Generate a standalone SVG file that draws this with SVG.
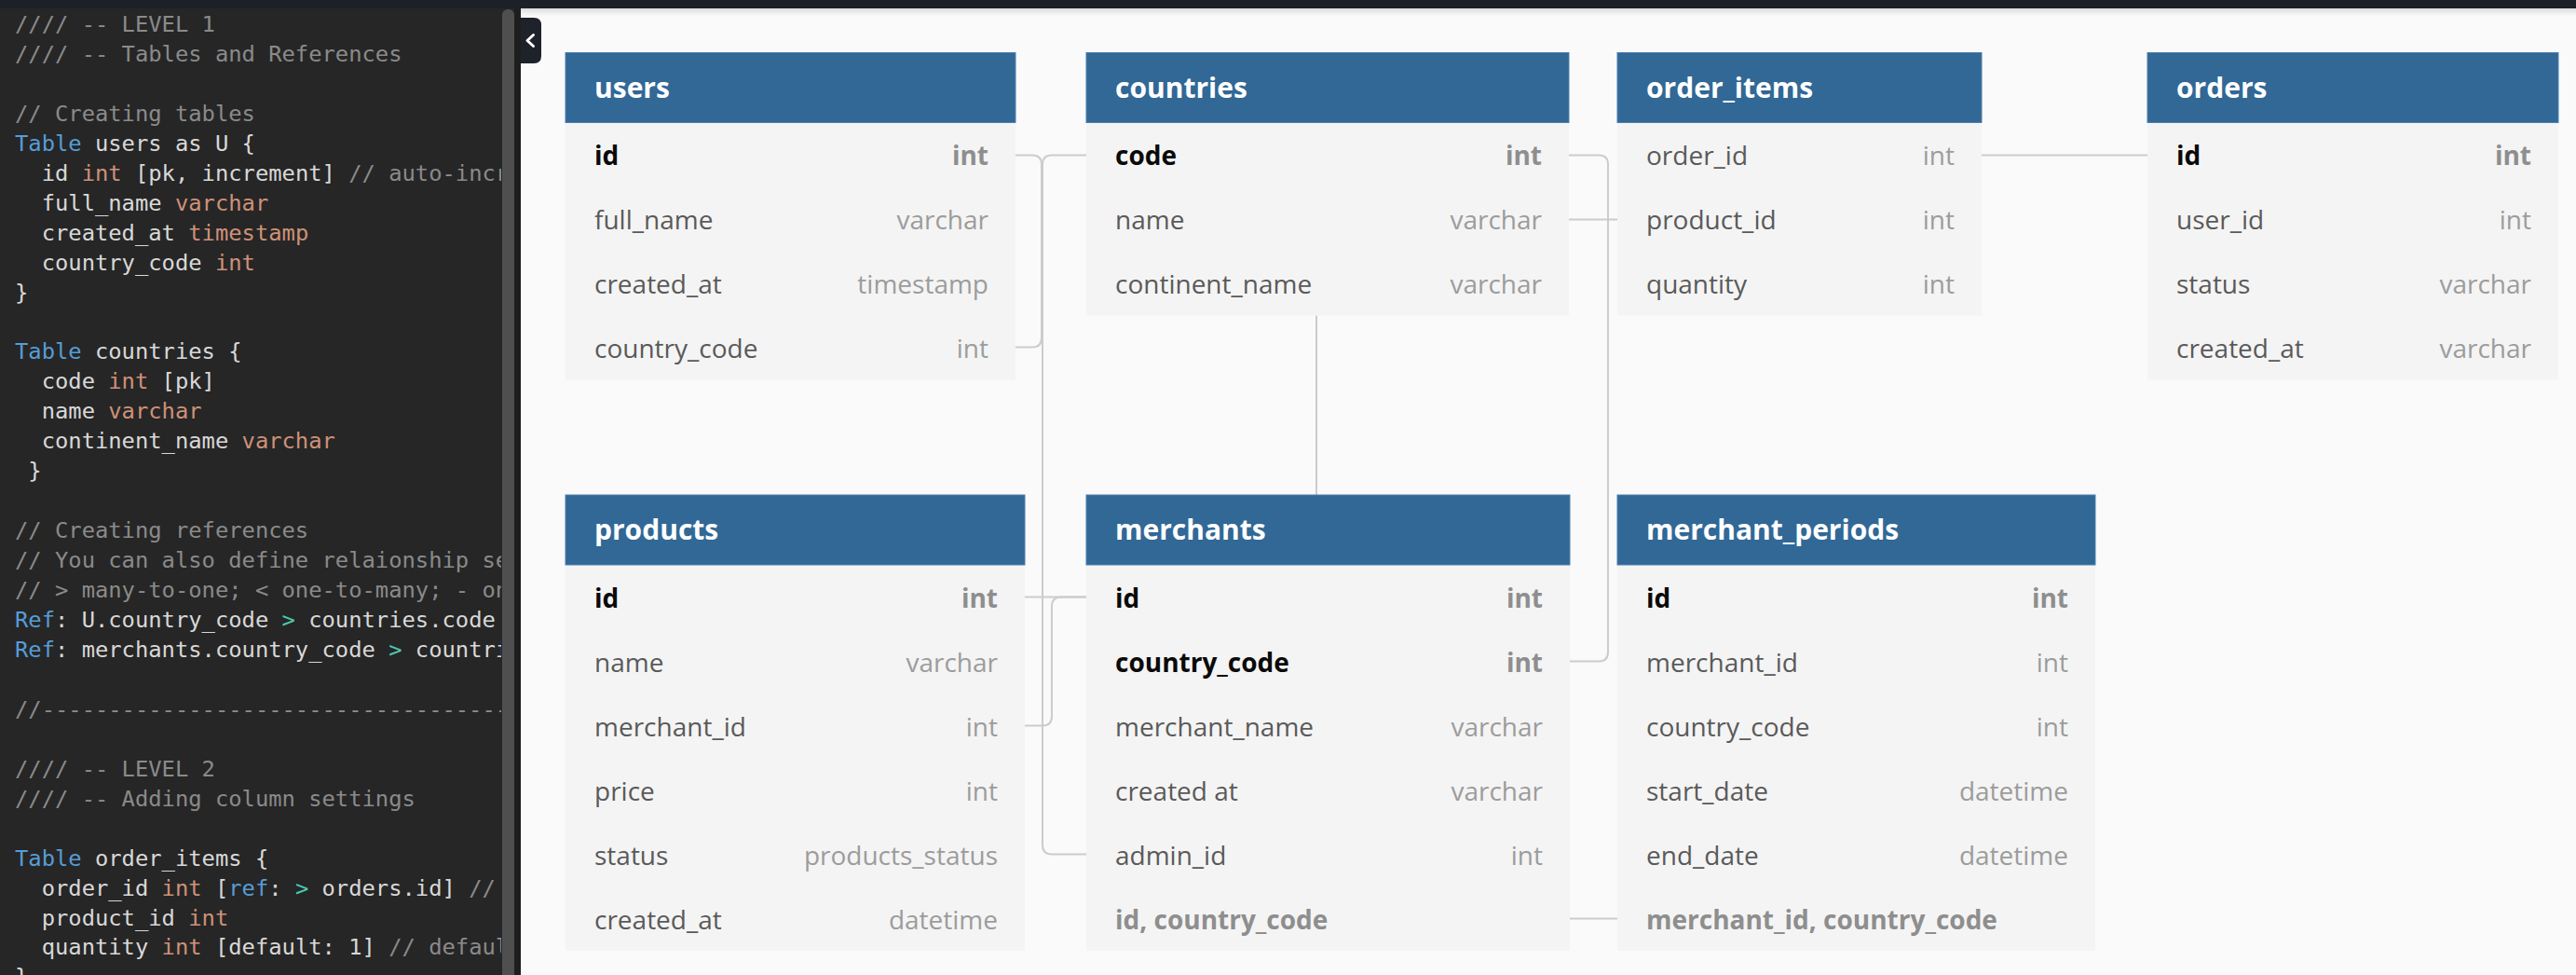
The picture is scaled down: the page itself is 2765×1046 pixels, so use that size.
<svg xmlns="http://www.w3.org/2000/svg" width="2765" height="1046" viewBox="0 0 2765 1046">
<defs>
<style>
.code{font-family:"DejaVu Sans Mono","Liberation Mono",monospace;font-size:23.8px;fill:#d8d8d8;white-space:pre}
.c{fill:#8a8a8a}.k{fill:#569cd6}.t{fill:#ce9178}.g{fill:#4ec9b0}
.hdr{fill:#316896;stroke:#4a80b1;stroke-width:1}
.body{fill:#f4f4f4}
.title{font-family:"Open Sans","Noto Sans",sans-serif;font-weight:bold;font-size:30px;fill:#ffffff}
.col{font-family:"Open Sans","Noto Sans",sans-serif;font-size:28px;fill:#5a5a5a}
.typ{font-family:"Open Sans","Noto Sans",sans-serif;font-size:28px;fill:#9c9c9c;text-anchor:end}
.pk{font-weight:bold;fill:#0a0a0a}
.pkt{font-weight:bold;fill:#8e8e8e}
.idx{font-weight:bold;fill:#8e8e8e}
.conn{fill:none;stroke:#cccccc;stroke-width:2}
</style>
<clipPath id="codeclip"><rect x="0" y="0" width="538" height="1046"/></clipPath>
<linearGradient id="topshadow" x1="0" y1="0" x2="0" y2="1">
<stop offset="0" stop-color="#000" stop-opacity="0.12"/>
<stop offset="1" stop-color="#000" stop-opacity="0"/>
</linearGradient>
</defs>

<!-- canvas -->
<rect x="0" y="0" width="2765" height="1046" fill="#fafafa"/>
<rect x="559" y="9" width="2206" height="8" fill="url(#topshadow)"/>

<!-- code panel -->
<g id="editor">
<rect x="0" y="9" width="559" height="1037" fill="#262626"/>
<rect x="552" y="9" width="7" height="1037" fill="#1e1e1e"/>
<rect x="539" y="10" width="13" height="1046" rx="6" fill="#4f4f4f"/>
<g class="code" clip-path="url(#codeclip)">
<text x="16" y="34" class="c">//// -- LEVEL 1</text>
<text x="16" y="65.95" class="c">//// -- Tables and References</text>
<text x="16" y="129.85" class="c">// Creating tables</text>
<text x="16" y="161.8"><tspan class="k">Table</tspan> users as U {</text>
<text x="44.66" y="193.75">id <tspan class="t">int</tspan> [pk, increment] <tspan class="c">// auto-incre</tspan></text>
<text x="44.66" y="225.7">full_name <tspan class="t">varchar</tspan></text>
<text x="44.66" y="257.65">created_at <tspan class="t">timestamp</tspan></text>
<text x="44.66" y="289.6">country_code <tspan class="t">int</tspan></text>
<text x="16" y="321.55">}</text>
<text x="16" y="385.45"><tspan class="k">Table</tspan> countries {</text>
<text x="44.66" y="417.4">code <tspan class="t">int</tspan> [pk]</text>
<text x="44.66" y="449.35">name <tspan class="t">varchar</tspan></text>
<text x="44.66" y="481.3">continent_name <tspan class="t">varchar</tspan></text>
<text x="30.33" y="513.25">}</text>
<text x="16" y="577.15" class="c">// Creating references</text>
<text x="16" y="609.1" class="c">// You can also define relaionship set</text>
<text x="16" y="641.05" class="c">// &gt; many-to-one; &lt; one-to-many; - one</text>
<text x="16" y="673"><tspan class="k">Ref</tspan>: U.country_code <tspan class="g">&gt;</tspan> countries.code</text>
<text x="16" y="704.95"><tspan class="k">Ref</tspan>: merchants.country_code <tspan class="g">&gt;</tspan> countrie</text>
<text x="16" y="768.85" class="c">//------------------------------------</text>
<text x="16" y="832.75" class="c">//// -- LEVEL 2</text>
<text x="16" y="864.7" class="c">//// -- Adding column settings</text>
<text x="16" y="928.6"><tspan class="k">Table</tspan> order_items {</text>
<text x="44.66" y="960.55">order_id <tspan class="t">int</tspan> [<tspan class="k">ref</tspan>: <tspan class="g">&gt;</tspan> orders.id] <tspan class="c">// i</tspan></text>
<text x="44.66" y="992.5">product_id <tspan class="t">int</tspan></text>
<text x="44.66" y="1024.45">quantity <tspan class="t">int</tspan> [default: 1] <tspan class="c">// default</tspan></text>
<text x="16" y="1056.4">}</text>
</g>
</g>

<!-- top bar -->
<rect x="0" y="0" width="2765" height="9" fill="#1c2029"/>

<!-- collapse button -->
<g id="toggle">
<path d="M559,19 H573 Q581,19 581,27 V60 Q581,68 573,68 H559 Z" fill="#1e222a"/>
<polyline points="572.5,37.5 566,43.5 572.5,49.5" fill="none" stroke="#ffffff" stroke-width="3" stroke-linecap="round" stroke-linejoin="round"/>
</g>

<!-- connectors -->
<g id="connectors">
<path class="conn" d="M1090,166.5 H1108 Q1118,166.5 1118,176.5 V362.5 Q1118,372.5 1108,372.5 H1090"/>
<path class="conn" d="M1166,166.5 H1129 Q1119,166.5 1119,176.5 V906.5 Q1119,916.5 1129,916.5 H1166"/>
<path class="conn" d="M1684,166.5 H1716 Q1726,166.5 1726,176.5 V699.5 Q1726,709.5 1716,709.5 H1685"/>
<path class="conn" d="M1684,235.5 H1736"/>
<path class="conn" d="M2127,166.5 H2305"/>
<path class="conn" d="M1413,338.5 V531"/>
<path class="conn" d="M1100,640.5 H1166"/>
<path class="conn" d="M1100,778.5 H1119 Q1129,778.5 1129,768.5 V650.5 Q1129,640.5 1139,640.5 H1166"/>
<path class="conn" d="M1685,985.5 H1736"/>
</g>

<!-- users -->
<g id="users">
<rect class="body" x="607" y="131.5" width="483" height="276"/>
<rect class="hdr" x="607" y="56.5" width="483" height="75"/>
<text class="title" x="638" y="105">users</text>
<text class="col pk" x="638" y="177">id</text><text class="typ pkt" x="1061" y="177">int</text>
<text class="col" x="638" y="246">full_name</text><text class="typ" x="1061" y="246">varchar</text>
<text class="col" x="638" y="315">created_at</text><text class="typ" x="1061" y="315">timestamp</text>
<text class="col" x="638" y="384">country_code</text><text class="typ" x="1061" y="384">int</text>
</g>

<!-- countries -->
<g id="countries">
<rect class="body" x="1166" y="131.5" width="518" height="207"/>
<rect class="hdr" x="1166" y="56.5" width="518" height="75"/>
<text class="title" x="1197" y="105">countries</text>
<text class="col pk" x="1197" y="177">code</text><text class="typ pkt" x="1655" y="177">int</text>
<text class="col" x="1197" y="246">name</text><text class="typ" x="1655" y="246">varchar</text>
<text class="col" x="1197" y="315">continent_name</text><text class="typ" x="1655" y="315">varchar</text>
</g>

<!-- order_items -->
<g id="order_items">
<rect class="body" x="1736" y="131.5" width="391" height="207"/>
<rect class="hdr" x="1736" y="56.5" width="391" height="75"/>
<text class="title" x="1767" y="105">order_items</text>
<text class="col" x="1767" y="177">order_id</text><text class="typ" x="2098" y="177">int</text>
<text class="col" x="1767" y="246">product_id</text><text class="typ" x="2098" y="246">int</text>
<text class="col" x="1767" y="315">quantity</text><text class="typ" x="2098" y="315">int</text>
</g>

<!-- orders -->
<g id="orders">
<rect class="body" x="2305" y="131.5" width="441" height="276"/>
<rect class="hdr" x="2305" y="56.5" width="441" height="75"/>
<text class="title" x="2336" y="105">orders</text>
<text class="col pk" x="2336" y="177">id</text><text class="typ pkt" x="2717" y="177">int</text>
<text class="col" x="2336" y="246">user_id</text><text class="typ" x="2717" y="246">int</text>
<text class="col" x="2336" y="315">status</text><text class="typ" x="2717" y="315">varchar</text>
<text class="col" x="2336" y="384">created_at</text><text class="typ" x="2717" y="384">varchar</text>
</g>

<!-- products -->
<g id="products">
<rect class="body" x="607" y="606" width="493" height="414"/>
<rect class="hdr" x="607" y="531" width="493" height="75"/>
<text class="title" x="638" y="579">products</text>
<text class="col pk" x="638" y="651.5">id</text><text class="typ pkt" x="1071" y="651.5">int</text>
<text class="col" x="638" y="720.5">name</text><text class="typ" x="1071" y="720.5">varchar</text>
<text class="col" x="638" y="789.5">merchant_id</text><text class="typ" x="1071" y="789.5">int</text>
<text class="col" x="638" y="858.5">price</text><text class="typ" x="1071" y="858.5">int</text>
<text class="col" x="638" y="927.5">status</text><text class="typ" x="1071" y="927.5">products_status</text>
<text class="col" x="638" y="996.5">created_at</text><text class="typ" x="1071" y="996.5">datetime</text>
</g>

<!-- merchants -->
<g id="merchants">
<rect class="body" x="1166" y="606" width="519" height="414"/>
<rect class="hdr" x="1166" y="531" width="519" height="75"/>
<text class="title" x="1197" y="579">merchants</text>
<text class="col pk" x="1197" y="651.5">id</text><text class="typ pkt" x="1656" y="651.5">int</text>
<text class="col pk" x="1197" y="720.5">country_code</text><text class="typ pkt" x="1656" y="720.5">int</text>
<text class="col" x="1197" y="789.5">merchant_name</text><text class="typ" x="1656" y="789.5">varchar</text>
<text class="col" x="1197" y="858.5">created at</text><text class="typ" x="1656" y="858.5">varchar</text>
<text class="col" x="1197" y="927.5">admin_id</text><text class="typ" x="1656" y="927.5">int</text>
<text class="col idx" x="1197" y="996.5">id, country_code</text>
</g>

<!-- merchant_periods -->
<g id="merchant_periods">
<rect class="body" x="1736" y="606" width="513" height="414"/>
<rect class="hdr" x="1736" y="531" width="513" height="75"/>
<text class="title" x="1767" y="579">merchant_periods</text>
<text class="col pk" x="1767" y="651.5">id</text><text class="typ pkt" x="2220" y="651.5">int</text>
<text class="col" x="1767" y="720.5">merchant_id</text><text class="typ" x="2220" y="720.5">int</text>
<text class="col" x="1767" y="789.5">country_code</text><text class="typ" x="2220" y="789.5">int</text>
<text class="col" x="1767" y="858.5">start_date</text><text class="typ" x="2220" y="858.5">datetime</text>
<text class="col" x="1767" y="927.5">end_date</text><text class="typ" x="2220" y="927.5">datetime</text>
<text class="col idx" x="1767" y="996.5">merchant_id, country_code</text>
</g>
</svg>
